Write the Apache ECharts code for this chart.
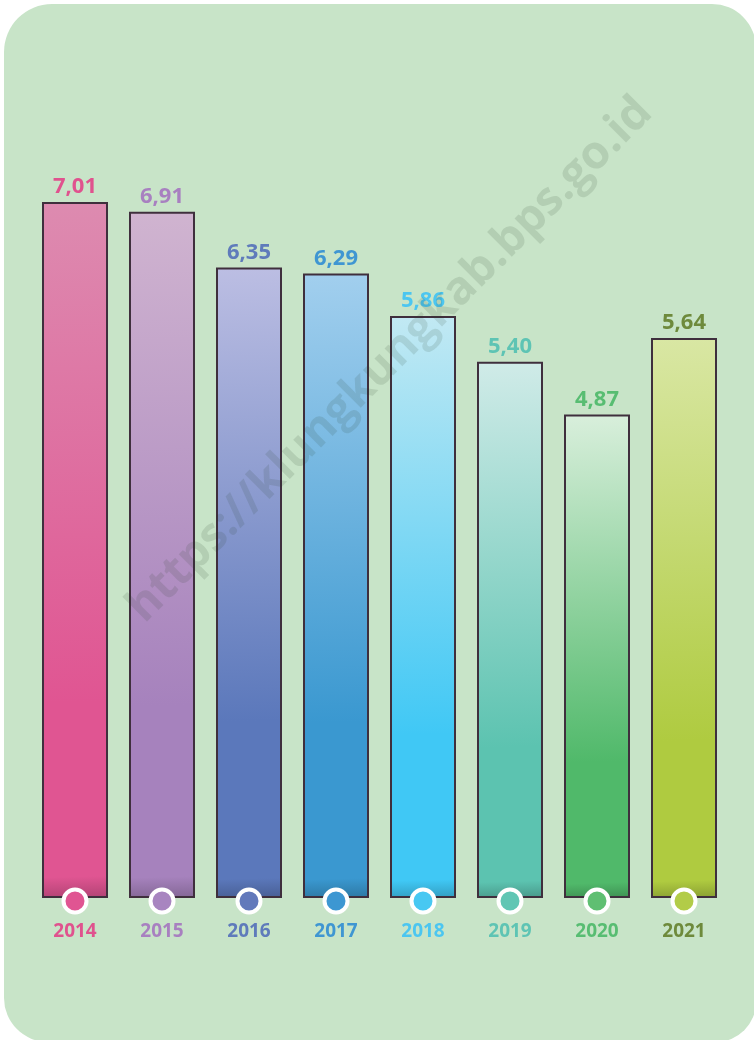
<!DOCTYPE html>
<html>
<head>
<meta charset="utf-8">
<script src="https://cdn.jsdelivr.net/npm/echarts@6/dist/echarts.min.js"></script>
<style>html,body{margin:0;padding:0;background:#fff;}#c{width:754px;height:1040px;}</style>
</head>
<body>
<div id="c"></div>
<script>
const years = ['2014','2015','2016','2017','2018','2019','2020','2021'];
const values = [7.01, 6.91, 6.35, 6.29, 5.86, 5.40, 4.87, 5.64];
const labelColors = ['#e0528e','#a880c0','#5f7bbb','#3f96d2','#4cc6f0','#5ec4b4','#58bd72','#6e8a3c'];
const topColors = ['#dd8bb0','#d0b4d0','#bcbee3','#a2cfee','#c2e9f3','#d0ebe8','#d9efdc','#d9e7a4'];
const bottomColors = ['#e05592','#a682bd','#5b78bb','#3a98d0','#40c8f5','#5cc3b0','#50b96a','#afcb40'];
const dotColors = ['#e05592','#a885c0','#6279bb','#3d97d2','#48c8f2','#60c6b4','#5fbf72','#b2cc48'];

const chart = echarts.init(document.getElementById('c'), null, {renderer:'canvas'});
const font = '"Open Sans", "Noto Sans", sans-serif';

function shade(hex, f){
  const n = parseInt(hex.slice(1),16);
  const r = Math.round(((n>>16)&255)*f), g = Math.round(((n>>8)&255)*f), b = Math.round((n&255)*f);
  return 'rgb('+r+','+g+','+b+')';
}

const barData = values.map((v,i)=>({
  value: v,
  itemStyle: {
    color: new echarts.graphic.LinearGradient(0,0,0.25,1,[
      {offset:0, color: topColors[i]},
      {offset:0.72, color: bottomColors[i]},
      {offset:0.97, color: bottomColors[i]},
      {offset:1, color: shade(bottomColors[i],0.8)}
    ])
  },
  label: {color: labelColors[i]}
}));

chart.setOption({
  animation:false,
  graphic:[
    {type:'rect', z:-10, shape:{x:4,y:4,width:752,height:1038,r:[48,44,40,44]}, style:{fill:'#c8e4c8'}},
    {type:'text', z:100, x:390, y:360, rotation:Math.PI/4,
     style:{text:'https://klungkungkab.bps.go.id', font:'bold 46px '+font, fill:'rgba(40,60,40,0.13)', align:'center', verticalAlign:'middle'}}
  ],
  grid:{left:31.5, right:26.5, top:103.6, bottom:142, containLabel:false},
  xAxis:{
    type:'category', data: years.map((y,i)=>({value:y, textStyle:{color:labelColors[i]}})),
    axisLine:{show:false}, axisTick:{show:false},
    axisLabel:{margin:24, fontSize:19, fontWeight:'bold', fontFamily:font}
  },
  yAxis:{type:'value', min:0, max:8, show:false, splitLine:{show:false}},
  series:[
    {type:'bar', data:barData, barWidth:66,
     itemStyle:{borderColor:'#3f2f3d', borderWidth:2},
     label:{show:true, position:'top', distance:4, fontSize:22, fontWeight:'bold', fontFamily:font,
            formatter:p=>p.value.toFixed(2).replace('.',',')}},
    {type:'scatter', data: years.map((y,i)=>({value:[i,0], itemStyle:{color:dotColors[i]}})),
     symbolSize:23, clip:false, z:5, symbolOffset:[0,3],
     itemStyle:{borderColor:'#ffffff', borderWidth:4, opacity:1}}
  ]
});
</script>
</body>
</html>
